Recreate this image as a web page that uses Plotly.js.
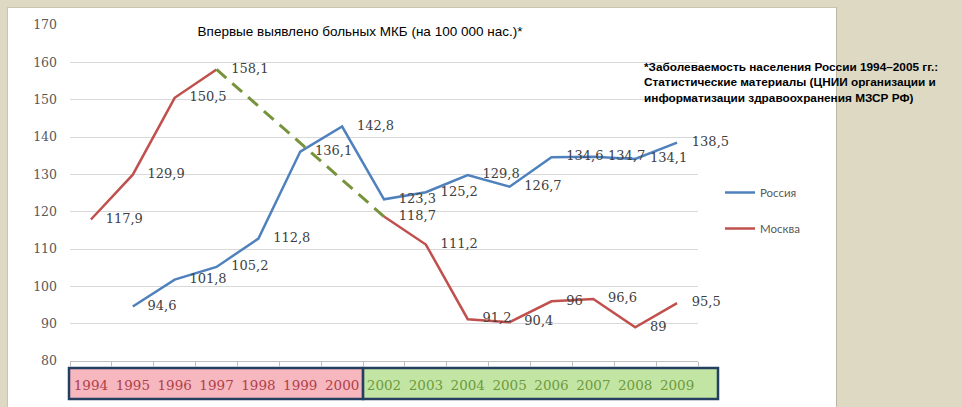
<!DOCTYPE html>
<html>
<head>
<meta charset="utf-8">
<script src="https://cdn.plot.ly/plotly-3.0.1.min.js"></script>
<style>
  html, body { margin:0; padding:0; background:#ddd9c3; width:962px; height:407px; overflow:hidden; }
  #panel { position:absolute; left:7px; top:7px; width:828px; height:400px; background:#ffffff; border-left:1px solid #c9c5b2; border-top:1px solid #c9c5b2; border-right:1px solid #b9b6a4; }
  #chart { position:absolute; left:0; top:0; width:962px; height:407px; }
</style>
</head>
<body>
<div id="panel"></div>
<div id="chart"></div>
<script>
// ---- data ----
const years = ['1994','1995','1996','1997','1998','1999','2000','2002','2003','2004','2005','2006','2007','2008','2009'];
const russia = [null, 94.6, 101.8, 105.2, 112.8, 136.1, 142.8, 123.3, 125.2, 129.8, 126.7, 134.6, 134.7, 134.1, 138.5];
const moscow = [117.9, 129.9, 150.5, 158.1, null, null, null, 118.7, 111.2, 91.2, 90.4, 96, 96.6, 89, 95.5];
const seriesNames = ['Россия', 'Москва'];
const yTicks = [80, 90, 100, 110, 120, 130, 140, 150, 160, 170];
const titleText = 'Впервые выявлено больных МКБ (на 100 000 нас.)*';
const noteLines = ['*Заболеваемость населения России 1994–2005 гг.:',
                   'Статистические материалы (ЦНИИ организации и',
                   'информатизации здравоохранения МЗСР РФ)'];
const firstPeriodEnd = '2000';

// ---- helpers ----
const fmt = v => (v === null ? '' : String(v).replace('.', ','));
// bridge across the gap in the Moscow series
let gapStart = -1, gapEnd = -1;
for (let i = 1; i < moscow.length; i++) {
  if (moscow[i] === null && moscow[i-1] !== null && gapStart < 0) gapStart = i - 1;
  if (moscow[i] !== null && moscow[i-1] === null && gapStart >= 0 && gapEnd < 0) gapEnd = i;
}
const bridgeX = [years[gapStart], years[gapEnd]];
const bridgeY = [moscow[gapStart], moscow[gapEnd]];

const splitIdx = years.indexOf(firstPeriodEnd);
const tickText = years.map((y, i) => i <= splitIdx
  ? '<span style="color:#b0404a">' + y + '</span>'
  : '<span style="color:#6e9a3c">' + y + '</span>');

const labelFont = {family: 'DejaVu Serif', size: 13, color: '#404040'};

function labelTrace(vals) {
  return {
    x: years, y: vals, type: 'scatter', mode: 'markers+text', showlegend: false,
    marker: {size: 22, opacity: 0}, text: vals.map(fmt), textposition: 'middle right',
    textfont: labelFont, hoverinfo: 'skip', cliponaxis: false
  };
}

const traces = [
  {
    x: years, y: russia, name: seriesNames[0], type: 'scatter', mode: 'lines',
    line: {color: '#4f81bd', width: 2.5}, legendgroup: 'a', hoverinfo: 'skip', connectgaps: false
  },
  {
    x: years, y: moscow, name: seriesNames[1], type: 'scatter', mode: 'lines',
    line: {color: '#c0504d', width: 2.5}, legendgroup: 'b', hoverinfo: 'skip', connectgaps: false
  },
  {
    x: bridgeX, y: bridgeY, type: 'scatter', mode: 'lines', showlegend: false,
    line: {color: '#77933c', width: 3, dash: '13px,8px'}, hoverinfo: 'skip'
  },
  labelTrace(russia),
  labelTrace(moscow)
];

const L = 70, R = 698, T = 25, B = 361;
const pw = R - L, ph = B - T;
const px = v => (v - L) / pw;
const py = v => (B - v) / ph;

const layout = {
  width: 962, height: 407,
  margin: {l: L, r: 962 - R, t: T, b: 407 - B},
  paper_bgcolor: 'rgba(0,0,0,0)', plot_bgcolor: 'rgba(0,0,0,0)',
  showlegend: true,
  title: {
    text: titleText, x: 360 / 962, xanchor: 'center', y: 1 - 31 / 407, yanchor: 'middle',
    font: {family: 'Liberation Sans', size: 13.5, color: '#000000'}
  },
  xaxis: {
    type: 'category', categoryorder: 'array', categoryarray: years,
    range: [-0.5, years.length - 0.5], autorange: false,
    tickvals: years, ticktext: tickText, tickangle: 0,
    showgrid: false, zeroline: false, showline: true, linecolor: '#bfbfbf', linewidth: 1,
    ticks: 'outside', tickson: 'boundaries', ticklen: 5, tickcolor: '#bfbfbf',
    tickfont: {family: 'DejaVu Serif', size: 13.5},
    ticklabelstandoff: 12, fixedrange: true
  },
  yaxis: {
    range: [80, 170], autorange: false, tickvals: yTicks, ticktext: yTicks.map(String),
    showgrid: true, gridcolor: '#d9d9d9', gridwidth: 1, zeroline: false, showline: false,
    ticks: '', tickfont: {family: 'DejaVu Serif', size: 12.5, color: '#595959'},
    ticklabelstandoff: 12, fixedrange: true
  },
  legend: {
    x: px(720), xanchor: 'left', y: py(178), yanchor: 'top',
    font: {family: 'Lato', size: 11.5, color: '#595959'},
    bgcolor: 'rgba(0,0,0,0)', tracegroupgap: 17, traceorder: 'grouped'
  },
  shapes: [
    {type: 'rect', xref: 'paper', yref: 'paper', layer: 'below',
     x0: px(69), x1: px(L + pw * (splitIdx + 1) / years.length), y0: py(368), y1: py(399),
     fillcolor: '#f6b7bf', line: {color: '#243f60', width: 2.5}},
    {type: 'rect', xref: 'paper', yref: 'paper', layer: 'below',
     x0: px(L + pw * (splitIdx + 1) / years.length), x1: px(718), y0: py(368), y1: py(399),
     fillcolor: '#c3e5a4', line: {color: '#243f60', width: 2.5}}
  ],
  annotations: [
    {text: noteLines.join('<br>'), xref: 'paper', yref: 'paper', x: px(642), y: py(58),
     xanchor: 'left', yanchor: 'top', align: 'left', showarrow: false,
     font: {family: 'Liberation Sans', size: 11.8, color: '#000000', weight: 'bold'}}
  ]
};

Plotly.newPlot('chart', traces, layout, {displayModeBar: false, staticPlot: true});
</script>
</body>
</html>
